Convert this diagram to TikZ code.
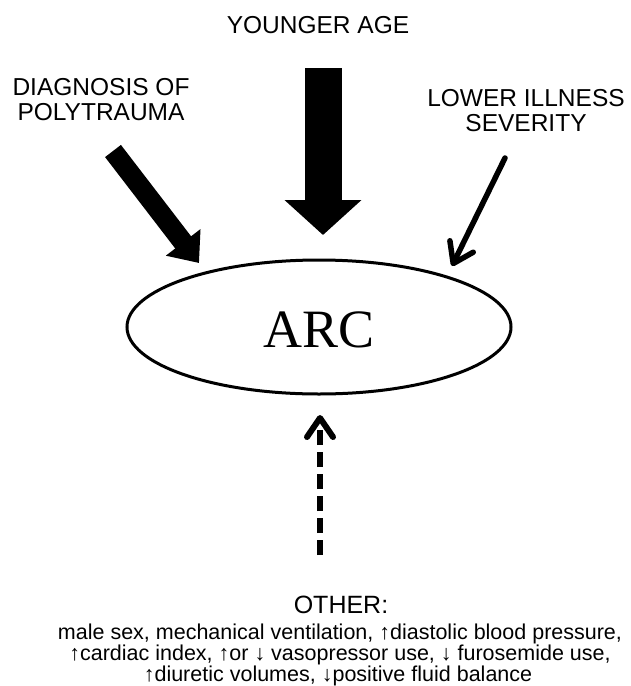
\documentclass[tikz,border=0pt]{standalone}
\usepackage{fontspec}
\setmainfont{Liberation Sans}
\newfontfamily\arcfont{Liberation Serif}
\usetikzlibrary{shapes.geometric,arrows.meta}
\tikzset{
  heading/.style={inner sep=0pt, align=center, font=\fontsize{24.5}{25}\selectfont},
  listline/.style={inner sep=0pt, anchor=base, font=\fontsize{21.5}{23}\selectfont},
  blockarrow/.style={draw=black, line cap=butt},
  thinarrow/.style={line width=5.5pt, line cap=round,
    -{Straight Barb[length=19pt,width=26pt,round]}},
  dasharrow/.style={line width=6pt, dash pattern=on 15pt off 7pt,
    -{Straight Barb[length=19pt,width=26pt,round]}},
}
\begin{document}
\begin{tikzpicture}[x=1pt,y=-1pt]
\useasboundingbox (0,0) rectangle (631,686);
% texts
\node[heading, anchor=north] (young) at (318,16.5) {YOUNGER AGE};
\node[heading, anchor=north] (diag) at (101,78.5) {DIAGNOSIS OF\\POLYTRAUMA};
\node[heading, anchor=north] (lower) at (526,89.5) {LOWER ILLNESS\\SEVERITY};
% ellipse
\node[draw, line width=3pt, ellipse, minimum width=384pt, minimum height=134pt,
  inner sep=0pt, text height=42pt, font=\arcfont\fontsize{54}{60}\selectfont] (arc) at (319,327) {ARC};
% other
\node[inner sep=0pt, anchor=base, font=\fontsize{25}{28}\selectfont] (other) at (341,613) {OTHER:};
\node[listline] (l1) at (340,639) {male sex, mechanical ventilation, ↑diastolic blood pressure,};
\node[listline] (l2) at (340,660) {↑cardiac index, ↑or ↓ vasopressor use, ↓ furosemide use,};
\node[listline] (l3) at (338,681) {↑diuretic volumes, ↓positive fluid balance};
% arrow coordinates
\coordinate (ytail) at (323,68);
\coordinate (ytip) at (323,235);
\coordinate (dtail) at (113,151);
\coordinate (dtip) at (199,263);
\coordinate (ltail) at (505,158);
\coordinate (ltip) at (452,266);
\coordinate (otail) at (320,555);
\coordinate (otip) at (320,415);
% arrows
\draw[blockarrow, line width=37pt, -{Triangle[length=35pt,width=75pt]}] (ytail) -- (ytip);
\draw[blockarrow, line width=20pt, -{Triangle[length=26pt,width=42pt]}] (dtail) -- (dtip);
\draw[thinarrow] (ltail) -- (ltip);
\draw[dasharrow] (otail) -- (otip);
\end{tikzpicture}
\end{document}
